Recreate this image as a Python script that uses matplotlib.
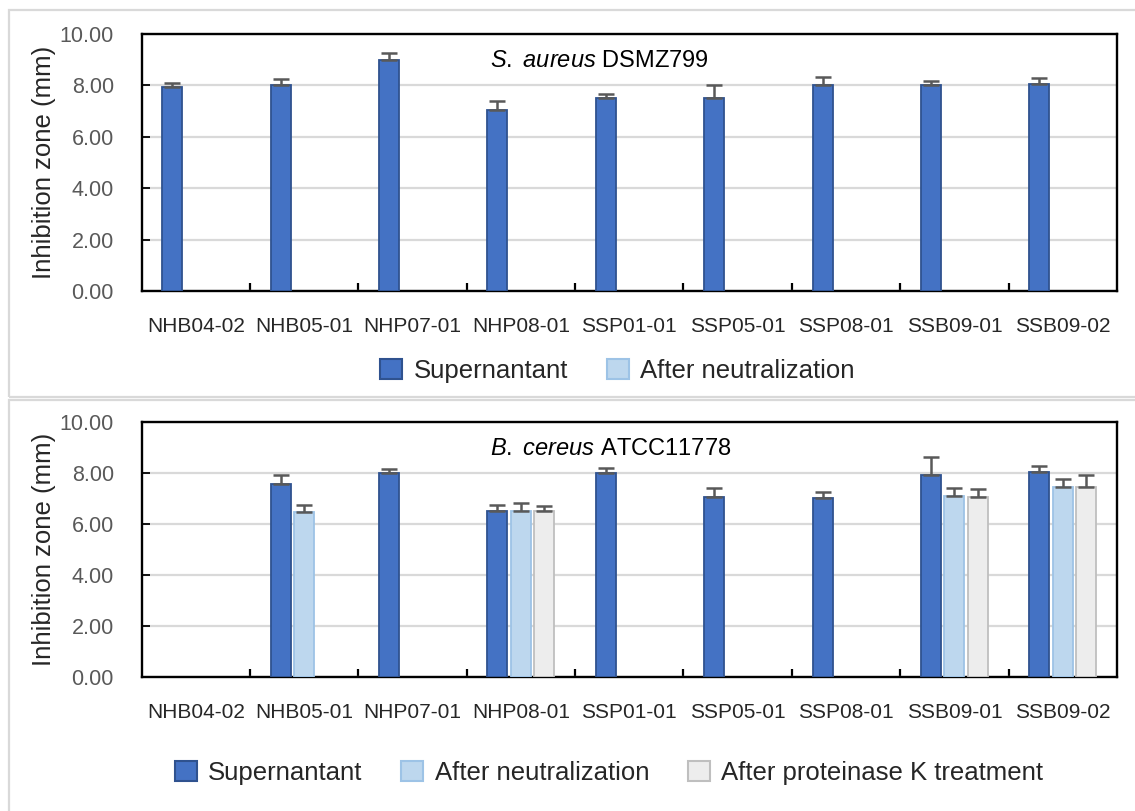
import matplotlib.pyplot as plt
import numpy as np
from matplotlib.patches import Patch, Rectangle

plt.rcParams['font.family'] = ['Liberation Sans', 'DejaVu Sans']
plt.rcParams['mathtext.fontset'] = 'custom'
plt.rcParams['mathtext.rm'] = 'Liberation Sans'
plt.rcParams['mathtext.it'] = 'Liberation Sans:italic'

# 菌株名称
strains = ['NHB04-02', 'NHB05-01', 'NHP07-01', 'NHP08-01', 'SSP01-01',
           'SSP05-01', 'SSP08-01', 'SSB09-01', 'SSB09-02']

# S. aureus DSMZ799 (0 = no zone)
sa_sup = [7.95, 8.0, 9.0, 7.05, 7.5, 7.5, 8.0, 8.0, 8.05]
sa_sup_err = [0.15, 0.25, 0.25, 0.35, 0.18, 0.5, 0.33, 0.18, 0.24]
sa_neut = [0, 0, 0, 0, 0, 0, 0, 0, 0]
sa_neut_err = [0, 0, 0, 0, 0, 0, 0, 0, 0]

# B. cereus ATCC11778
bc_sup = [0, 7.55, 7.97, 6.5, 7.97, 7.06, 7.0, 7.91, 8.01]
bc_sup_err = [0, 0.35, 0.17, 0.25, 0.22, 0.34, 0.26, 0.69, 0.24]
bc_neut = [0, 6.46, 0, 6.5, 0, 0, 0, 7.1, 7.45]
bc_neut_err = [0, 0.29, 0, 0.3, 0, 0, 0, 0.29, 0.29]
bc_prot = [0, 0, 0, 6.48, 0, 0, 0, 7.06, 7.45]
bc_prot_err = [0, 0, 0, 0.22, 0, 0, 0, 0.29, 0.45]

labels = ['Supernantant', 'After neutralization', 'After proteinase K treatment']
fills = ['#4472C4', '#BDD7EE', '#EDEDED']
edges = ['#2F528F', '#9DC3E6', '#BFBFBF']


def draw_panel(ax, series, title):
    x = np.arange(len(strains))
    for k, (vals, errs) in enumerate(series):
        vals = np.array(vals, dtype=float)
        errs = np.array(errs, dtype=float)
        m = vals > 0
        if not m.any():
            continue
        xx = x[m] + (k - 1) * 0.217
        ax.bar(xx, vals[m], width=0.185, color=fills[k], edgecolor=edges[k],
               linewidth=1.3, zorder=3)
        ax.errorbar(xx, vals[m], yerr=[np.zeros(m.sum()), errs[m]], fmt='none',
                    ecolor='#595959', elinewidth=1.8, capsize=6, capthick=1.8,
                    zorder=4)
    ax.set_xlim(-0.5, len(strains) - 0.5)
    ax.set_ylim(0, 10)
    ax.set_yticks(np.arange(0, 10.1, 2))
    ax.set_yticklabels(['%.2f' % v for v in np.arange(0, 10.1, 2)])
    ax.grid(axis='y', color='#D9D9D9', linewidth=1.6, zorder=0)
    ax.set_axisbelow(True)
    ax.set_xticks(x)
    ax.set_xticklabels(strains)
    ax.set_xticks(np.arange(0.5, len(strains) - 0.5, 1), minor=True)
    ax.tick_params(axis='x', which='major', length=0, pad=19, labelsize=15,
                   labelcolor='#262626')
    ax.tick_params(axis='x', which='minor', direction='in', length=6,
                   width=1.6, color='black')
    ax.tick_params(axis='y', direction='in', length=6, width=1.3, pad=20,
                   labelsize=15.5, labelcolor='#595959')
    for sp in ax.spines.values():
        sp.set_linewidth(1.7)
        sp.set_color('black')
    ax.set_ylabel('Inhibition zone (mm)', fontsize=18.5, color='#262626')
    ax.yaxis.set_label_coords(-0.088, 0.5)
    ax.text(0.357, 0.893, title, transform=ax.transAxes, ha='left',
            va='center', fontsize=17, color='black')


fig = plt.figure(figsize=(11.35, 8.11), dpi=100)
W, H = 1135.0, 811.0

# 外框
fig.add_artist(Rectangle((8.5 / W, 1 - 397 / H), (1140 - 8.5) / W, (397 - 10) / H,
                         transform=fig.transFigure, fill=False,
                         edgecolor='#D9D9D9', linewidth=1.6))
fig.add_artist(Rectangle((8.5 / W, -0.01), (1140 - 8.5) / W, 1 - 399.5 / H + 0.01,
                         transform=fig.transFigure, fill=False,
                         edgecolor='#D9D9D9', linewidth=1.6))

ax1 = fig.add_axes([141.6 / W, 1 - 291 / H, (1117 - 141.6) / W, 257 / H])
draw_panel(ax1, [(sa_sup, sa_sup_err), (sa_neut, sa_neut_err)],
           r'$\mathit{S.}$ $\mathit{aureus}$ DSMZ799')

ax2 = fig.add_axes([141.6 / W, 1 - 677 / H, (1117 - 141.6) / W, 255.5 / H])
draw_panel(ax2, [(bc_sup, bc_sup_err), (bc_neut, bc_neut_err), (bc_prot, bc_prot_err)],
           r'$\mathit{B.}$ $\mathit{cereus}$ ATCC11778')

# 图例
h = [Patch(facecolor=fills[i], edgecolor=edges[i], linewidth=1.5) for i in range(3)]
fig.legend(h[:2], labels[:2], loc='center', bbox_to_anchor=(617.5 / W, 1 - 371 / H),
           ncol=2, frameon=False, fontsize=18.5, handlelength=0.85, handleheight=0.85,
           handletextpad=0.45, columnspacing=1.5, labelcolor='#262626')
fig.legend(h, labels, loc='center', bbox_to_anchor=(609 / W, 1 - 773 / H),
           ncol=3, frameon=False, fontsize=18.5, handlelength=0.85, handleheight=0.85,
           handletextpad=0.45, columnspacing=1.5, labelcolor='#262626')

fig.savefig('out.png', dpi=100)
